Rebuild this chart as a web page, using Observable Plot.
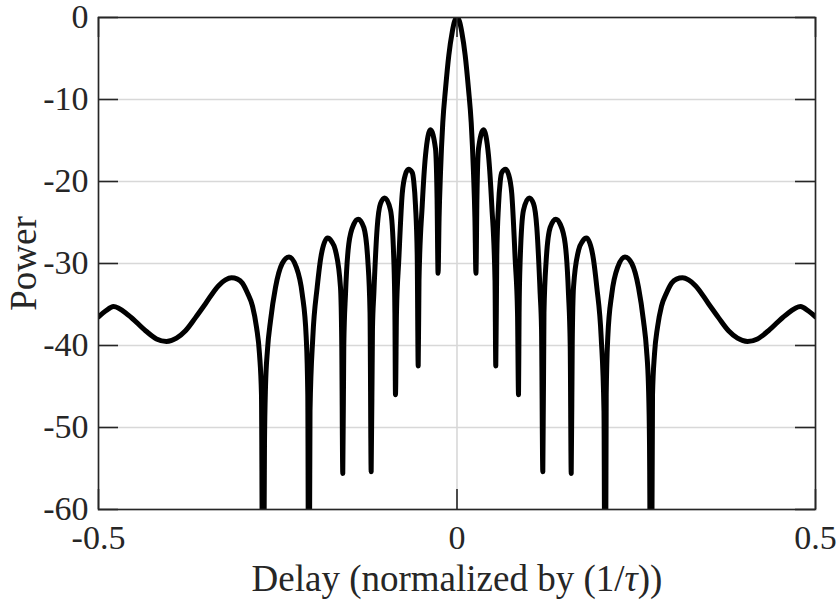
<!DOCTYPE html>
<html><head><meta charset="utf-8">
<script src="https://cdn.jsdelivr.net/npm/d3@7"></script>
<script src="https://cdn.jsdelivr.net/npm/@observablehq/plot@0.6"></script>
<style>body{margin:0;background:#fff}</style>
</head><body><div id="chart"></div>
<script>
const xTicks = [-0.5, 0, 0.5];
const xTickLabels = ["-0.5", "0", "0.5"];
const yTicks = [0, -10, -20, -30, -40, -50, -60];
const yTickLabels = ["0", "-10", "-20", "-30", "-40", "-50", "-60"];
const xLabel = "Delay (normalized by (1/τ))";
const yLabel = "Power";

const delay = [
  -0.5, -0.4902, -0.4791, -0.4582, -0.4344, -0.4191, -0.4052, -0.3912, -0.3787, -0.3647,
  -0.3508, -0.3326, -0.3229, -0.3145, -0.3061, -0.2992, -0.2922, -0.2852, -0.2796, -0.2755,
  -0.2727, -0.2706, -0.2685, -0.2671, -0.2643, -0.2601, -0.2531, -0.2438, -0.2343, -0.2243,
  -0.2159, -0.2103, -0.2081, -0.2067, -0.2050, -0.2011, -0.1950, -0.1890, -0.1806, -0.1750,
  -0.1695, -0.1625, -0.1607, -0.1593, -0.1579, -0.1555, -0.1509, -0.1439, -0.1378, -0.1300,
  -0.1244, -0.1213, -0.1197, -0.1179, -0.1160, -0.1113, -0.1067, -0.1007, -0.0927, -0.0881,
  -0.0866, -0.0858, -0.0844, -0.0812, -0.0764, -0.0718, -0.0676, -0.0625, -0.0603, -0.0579,
  -0.0555, -0.0541, -0.0530, -0.0485, -0.0439, -0.0370, -0.0300, -0.0278, -0.0264, -0.0250,
  -0.0230, -0.0198, -0.0160, -0.0114, -0.0067, -0.0035, 0,
  0.0035, 0.0067, 0.0114, 0.0160, 0.0198, 0.0230, 0.0250, 0.0264, 0.0278, 0.0300,
  0.0370, 0.0439, 0.0485, 0.0530, 0.0541, 0.0555, 0.0579, 0.0603, 0.0625, 0.0676,
  0.0718, 0.0764, 0.0812, 0.0844, 0.0858, 0.0866, 0.0881, 0.0927, 0.1007, 0.1067,
  0.1113, 0.1160, 0.1179, 0.1197, 0.1213, 0.1244, 0.1300, 0.1378, 0.1439, 0.1509,
  0.1555, 0.1579, 0.1593, 0.1607, 0.1625, 0.1695, 0.1750, 0.1806, 0.1890, 0.1950,
  0.2011, 0.2050, 0.2067, 0.2081, 0.2103, 0.2159, 0.2243, 0.2343, 0.2438, 0.2531,
  0.2601, 0.2643, 0.2671, 0.2685, 0.2706, 0.2727, 0.2755, 0.2796, 0.2852, 0.2922,
  0.2992, 0.3061, 0.3145, 0.3229, 0.3326, 0.3508, 0.3647, 0.3787, 0.3912, 0.4052,
  0.4191, 0.4344, 0.4582, 0.4791, 0.4902, 0.5
];
const power = [
  -36.5, -35.8, -35.25, -36.3, -38.2, -39.2, -39.5, -39.1, -38.2, -36.6,
  -34.9, -32.7, -32.0, -31.75, -31.9, -32.4, -33.6, -35.2, -37.8, -41.0,
  -46.0, -85, -52, -45.1, -40.5, -37.0, -32.9, -30.0, -29.2, -30.4,
  -33.7, -39.0, -46.0, -85, -48.0, -39.0, -32.9, -28.8, -26.9, -27.3,
  -28.4, -32.9, -40.0, -55.6, -40.0, -33.7, -27.6, -25.2, -24.6, -25.6,
  -29.6, -36.0, -55.4, -38.0, -33.7, -25.6, -22.7, -22.0, -23.5, -29.6,
  -36.0, -46.0, -36.0, -29.6, -21.5, -19.1, -18.5, -18.9, -20.0, -22.9,
  -29.0, -42.5, -32.0, -22.9, -16.8, -13.7, -16.0, -22.0, -31.2, -24.5,
  -18.9, -12.8, -8.7, -4.6, -1.8, -0.5, 0,
  -0.5, -1.8, -4.6, -8.7, -12.8, -18.9, -24.5, -31.2, -22.0, -16.0,
  -13.7, -16.8, -22.9, -32.0, -42.5, -29.0, -22.9, -20.0, -18.9, -18.5,
  -19.1, -21.5, -29.6, -36.0, -46.0, -36.0, -29.6, -23.5, -22.0, -22.7,
  -25.6, -33.7, -38.0, -55.4, -36.0, -29.6, -25.6, -24.6, -25.2, -27.6,
  -33.7, -40.0, -55.6, -40.0, -32.9, -28.4, -27.3, -26.9, -28.8, -32.9,
  -39.0, -48.0, -85, -46.0, -39.0, -33.7, -30.4, -29.2, -30.0, -32.9,
  -37.0, -40.5, -45.1, -52, -85, -46.0, -41.0, -37.8, -35.2, -33.6,
  -32.4, -31.9, -31.75, -32.0, -32.7, -34.9, -36.6, -38.2, -39.1, -39.5,
  -39.2, -38.2, -36.3, -35.25, -35.8, -36.5
];
const curve = delay.map((d, i) => ({delay: d, power: power[i]}));

const W = 837, H = 604, ML = 98, MR = 22, MT = 17, MB = 95;
const frameW = W - ML - MR;
const frameH = H - MT - MB;
const tickLen = 20;
const axisColor = "#262626";

const chart = Plot.plot({
  width: W, height: H,
  marginLeft: ML, marginRight: MR, marginTop: MT, marginBottom: MB,
  style: {fontFamily: "'Liberation Serif', serif", fontSize: "34px", color: axisColor, background: "#fff", overflow: "visible"},
  x: {domain: [-0.5, 0.5], axis: null},
  y: {domain: [-60, 0], axis: null},
  marks: [
    Plot.gridY(yTicks, {stroke: "#d8d8d8", strokeOpacity: 1, strokeWidth: 1.6}),
    Plot.gridX(xTicks, {stroke: "#d8d8d8", strokeOpacity: 1, strokeWidth: 1.6}),
    Plot.line(curve, {x: "delay", y: "power", stroke: "black", strokeWidth: 5,
      curve: "monotone-x", clip: true, strokeLinejoin: "round", strokeLinecap: "round"}),
    Plot.tickY(yTicks, {y: d => d, insetRight: frameW - tickLen, stroke: axisColor, strokeWidth: 1.6}),
    Plot.tickY(yTicks, {y: d => d, insetLeft: frameW - tickLen, stroke: axisColor, strokeWidth: 1.6}),
    Plot.tickX(xTicks, {x: d => d, insetBottom: frameH - tickLen, stroke: axisColor, strokeWidth: 1.6}),
    Plot.tickX(xTicks, {x: d => d, insetTop: frameH - tickLen, stroke: axisColor, strokeWidth: 1.6}),
    Plot.frame({stroke: axisColor, strokeWidth: 1.6}),
    Plot.axisY(yTicks, {tickSize: 0, tickPadding: 10, fontSize: 34,
      tickFormat: d => yTickLabels[yTicks.indexOf(d)], label: null}),
    Plot.axisX(xTicks, {tickSize: 0, tickPadding: 15, fontSize: 34,
      tickFormat: d => xTickLabels[xTicks.indexOf(d)], label: null}),
    Plot.text([yLabel], {frameAnchor: "left", dx: -74, rotate: -90, textAnchor: "middle",
      lineAnchor: "middle", fontSize: 37, fill: axisColor}),
    Plot.text([xLabel], {frameAnchor: "bottom", dy: 70, textAnchor: "middle",
      lineAnchor: "middle", fontSize: 37, fill: axisColor})
  ]
});

d3.select(chart).selectAll("text").filter(function() { return this.textContent === xLabel; })
  .each(function() {
    const t = d3.select(this);
    t.text(null);
    t.append("tspan").text("Delay (normalized by (1/");
    t.append("tspan").attr("font-style", "italic").text("τ");
    t.append("tspan").text("))");
  });

document.getElementById("chart").appendChild(chart);
</script>
</body></html>
